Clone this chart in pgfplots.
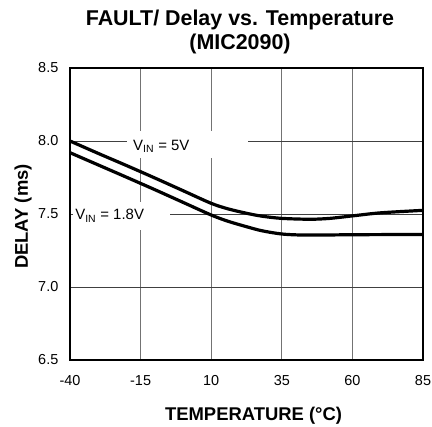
\documentclass[border=0pt]{standalone}
\usepackage{fontspec}
\setmainfont{Liberation Sans}
\usepackage{pgfplots}
\pgfplotsset{compat=1.18}
\begin{document}
\begin{tikzpicture}[x=1bp,y=1bp]
\useasboundingbox (0,0) rectangle (432,427);
\begin{axis}[
  at={(70bp,67bp)}, anchor=south west,
  scale only axis, width=353bp, height=292bp,
  xmin=-40, xmax=85, ymin=6.5, ymax=8.5,
  xtick={-40,-15,10,35,60,85},
  ytick={6.5,7.0,7.5,8.0,8.5},
  yticklabel style={/pgf/number format/fixed, /pgf/number format/fixed zerofill, /pgf/number format/precision=1},
  /pgf/number format/assume math mode=true,
  tick label style={font=\fontsize{14.5}{16}\selectfont, inner sep=0pt},
  x tick label style={anchor=north, yshift=-15bp},
  y tick label style={anchor=east, xshift=-11.5bp},
  major tick length=0pt,
  grid=major,
  major x grid style={black!55, line width=1.1bp},
  major y grid style={black!75, line width=0.9bp},
  axis line style={black, line width=1.3bp},
  xlabel={TEMPERATURE (°C)},
  xlabel style={font=\fontsize{18.5}{20}\selectfont\bfseries, at={(axis description cs:0.520,0)}, anchor=base, yshift=-60bp},
  ylabel={DELAY (ms)},
  ylabel style={font=\fontsize{18.5}{20}\selectfont\bfseries, at={(axis description cs:-0.119,0.4914)}, anchor=base},
]
\fill[white] (axis cs:-19.8,7.884) rectangle (axis cs:23.0,8.068);
\fill[white] (axis cs:-38.9,7.390) rectangle (axis cs:-4.6,7.582);
\node[anchor=base west, inner sep=0pt, font=\fontsize{15}{17}\selectfont] at (axis cs:-17.7,7.938) {V\textsubscript{IN} = 5V};
\node[anchor=base west, inner sep=0pt, font=\fontsize{15}{17}\selectfont] at (axis cs:-38.2,7.459) {V\textsubscript{IN} = 1.8V};
\addplot[black, line width=3.2bp, smooth] coordinates {
(-40,8.000) (-30,7.915) (-20,7.832) (-10,7.747) (0,7.660) (10,7.573) (16,7.535) (22.5,7.505) (28,7.485) (35,7.470) (45,7.464) (52,7.470) (60,7.487) (70,7.508) (85,7.525)};
\addplot[black, line width=3.2bp, smooth] coordinates {
(-40,7.920) (-30,7.836) (-20,7.752) (-10,7.667) (0,7.580) (10,7.493) (16,7.450) (22.5,7.413) (28,7.385) (35,7.363) (42,7.356) (50,7.356) (60,7.358) (85,7.360)};
\end{axis}
\node[anchor=base, inner sep=0pt, font=\fontsize{21.5}{24}\selectfont\bfseries] at (240,401) {FAULT/ Delay vs. Temperature};
\node[anchor=base, inner sep=0pt, font=\fontsize{21.5}{24}\selectfont\bfseries] at (240,378) {(MIC2090)};
\end{tikzpicture}
\end{document}
